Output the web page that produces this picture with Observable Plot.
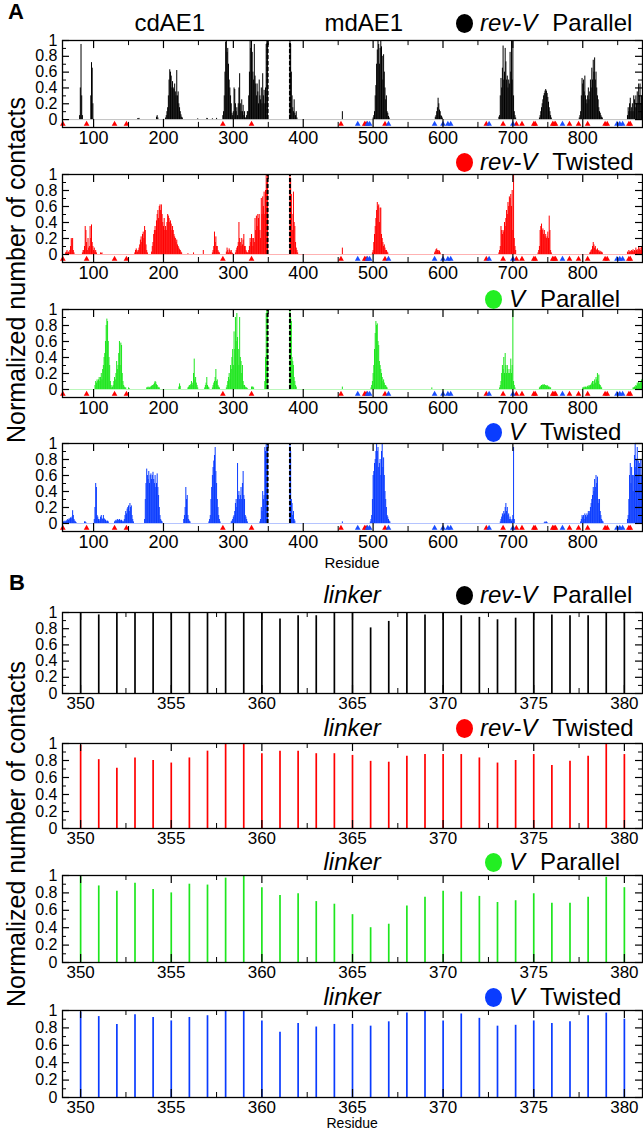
<!DOCTYPE html>
<html><head><meta charset="utf-8">
<script src="https://cdn.jsdelivr.net/npm/d3@7"></script>
<script src="https://cdn.jsdelivr.net/npm/@observablehq/plot@0.6"></script>
<style>
body{margin:0;background:#fff;font-family:"Liberation Sans",Arial,sans-serif;}
#root{position:relative;width:643px;height:1132px;overflow:hidden;background:#fff;}
.abs{position:absolute;white-space:nowrap;color:#000;}
.leg{font-size:24px;}
.dot{display:inline-block;width:17px;height:19px;border-radius:50%;vertical-align:-2px;margin-right:7px;}
.gap{display:inline-block;width:15px;}
.ytitle{font-size:25px;transform:rotate(-90deg);transform-origin:center center;text-align:center;width:400px;}
</style></head><body><div id="root"></div>
<script>
// ---------------- DATA ----------------
// Section A: per-residue normalized contacts, as [startResidue, [values...]] runs
const revVParallel = [
 [80,[0.05,0.4,0.95,0.3,0.05]],
 [96,[0.3,0.72,0.65,0.2]],
 [163,[0.01,0.01,0.015]],
 [190,[0.03,0.05,0.02]],
 [203,[0.02,0.05,0.1,0.15,0.3,0.5,0.63,0.6,0.55,0.4,0.48,0.4,0.38,0.45,0.35,0.3,0.62,0.3,0.35,0.2,0.15,0.1,0.06,0.03,0.02]],
 [249,[0.01]],[262,[0.015,0.01]],[270,[0.01]],[276,[0.015]],
 [285,[0.05,0.1,0.3,0.6,0.98,1,0.85,0.9,0.7,0.5,0.4,0.3,0.2,0.08,0.05,0.1,0.4,0.38,0.2,0.1,0.15,0.05,0.2,0.4,0.58,0.2,0.1,0.25,0.1,0.18,0.05,0.1,0.02,0.02,0.05,0.1]],
 [321,[0.1,0.3,0.6,1,0.9,1,0.85,0.6,0.5,0.95,0.55,0.45,0.3,0.45,0.35,0.2,0.5,0.3,0.25,0.4,0.2,0.58,0.3,0.37,0.2,0.4,0.95,1,1]],
 [381,[1,0.95,0.6,0.3,0.15,0.1,0.25,0.08,0.05,0.1,0.02]],
 [456,[0.1]],
 [500,[0.02,0.05,0.1,0.3,0.43,0.7,0.88,1,0.95,0.7,0.9,1,0.92,0.8,0.5,0.82,0.6,0.4,0.25,0.3,0.1,0.08,0.04,0.02]],
 [589,[0.03,0.05,0.1,0.15,0.27,0.2,0.12,0.1,0.05,0.04,0.02]],
 [680,[0.03,0.05,0.3,0.52,0.4,0.65,0.93,0.5,0.6,0.9,0.73,0.5,0.55,0.4,0.5,0.45,0.85,0.6,1,0.5,1,0.3,0.1,0.05,0.02]],
 [738,[0.02,0.05,0.1,0.15,0.2,0.25,0.3,0.33,0.36,0.38,0.36,0.33,0.28,0.22,0.15,0.1,0.05,0.02]],
 [795,[0.02,0.05,0.1,0.3,0.52,0.45,0.5,0.35,0.55,0.3,0.25,0.2,0.3,0.4,0.25,0.35,0.5,0.4,0.65,0.5,0.75,0.6,0.78,0.5,0.6,0.4,0.3,0.25,0.15,0.1,0.08,0.05,0.03,0.02]],
 [864,[0.05,0.15,0.1,0.2,0.27,0.1,0.15,0.2,0.1,0.3,0.25,0.15,0.3,0.2,0.35,0.2,0.45,0.3,0.45,0.2,0.3,0.1]]
];
const revVTwisted = [
 [60,[0.02,0.03,0.05,0.02,0.03,0.02,0.05,0.1,0.2,0.18,0.2,0.05,0.02]],
 [84,[0.02,0.05,0.05,0.1,0.35,0.3,0.15,0.05,0.2,0.08,0.1,0.35,0.2,0.37,0.15,0.1,0.05,0.08,0.03,0.05,0.02]],
 [110,[0.02,0.01,0.02]],
 [159,[0.02,0.05,0.07,0.05,0.03,0.05,0.08,0.12,0.18,0.22,0.15,0.25,0.28,0.2,0.35,0.3,0.12,0.05,0.02]],
 [183,[0.03,0.1,0.15,0.25,0.3,0.35,0.3,0.42,0.5,0.55,0.45,0.6,0.62,0.55,0.62,0.5,0.4,0.35,0.45,0.3,0.35,0.3,0.4,0.5,0.48,0.45,0.4,0.42,0.38,0.3,0.35,0.3,0.25,0.22,0.2,0.15,0.18,0.12,0.1,0.08,0.06,0.05,0.03,0.02]],
 [235,[0.01]],[243,[0.02]],[257,[0.05]],
 [270,[0.02,0.05,0.1,0.28,0.15,0.22,0.1,0.1,0.05,0.03,0.02]],
 [290,[0.03,0.08,0.05,0.02,0.07,0.05,0.03,0.05,0.02,0.01]],
 [303,[0.02,0.05,0.08,0.1,0.15,0.4,0.2,0.15,0.1,0.2,0.12,0.18,0.25,0.1,0.1,0.05,0.03,0.02]],
 [321,[0.02,0.05,0.1,0.2,0.15,0.25,0.2,0.1,0.2,0.15,0.45,0.3,0.48,0.35,0.5,0.45,0.5,0.3,0.2,0.7,0.5,0.72,0.6,0.78,0.5,0.8,1,0.9,1]],
 [381,[1,0.95,0.75,0.5,0.3,0.78,0.4,0.35,0.15,0.08,0.05,0.02]],
 [456,[0.08]],
 [499,[0.02,0.05,0.15,0.25,0.35,0.45,0.55,0.65,0.6,0.62,0.4,0.58,0.58,0.25,0.2,0.15,0.1,0.12,0.08,0.05,0.05,0.03,0.02]],
 [588,[0.02,0.04,0.06,0.07,0.05,0.03,0.05,0.04,0.02]],
 [680,[0.02,0.05,0.1,0.35,0.3,0.25,0.3,0.28,0.4,0.35,0.45,0.55,0.5,0.65,0.6,0.72,0.7,0.75,0.6,0.8,0.3,1,0.2,0.1,0.05]],
 [736,[0.02,0.05,0.1,0.3,0.35,0.38,0.3,0.32,0.25,0.3,0.22,0.25,0.2,0.22,0.28,0.2,0.48,0.3,0.05,0.02]],
 [810,[0.02,0.03,0.05,0.06,0.1,0.15,0.12,0.08,0.1,0.06,0.05,0.07,0.04,0.05,0.03,0.04,0.02,0.03,0.02]],
 [864,[0.03,0.02,0.05,0.03,0.04,0.03,0.05,0.04,0.06,0.03,0.05,0.04,0.08,0.05,0.06,0.04,0.1,0.06,0.08,0.05,0.1,0.06]]
];
const vParallel = [
 [102,[0.05,0.1,0.08,0.12,0.1,0.12,0.15,0.1,0.15,0.2,0.12,0.25,0.3,0.4,0.45,0.6,0.8,0.88,0.85,0.6,0.4,0.3,0.1,0.05,0.02,0.03,0.05,0.1,0.15,0.12,0.2,0.35,0.25,0.3,0.45,0.6,0.3,0.58,0.55,0.2,0.1,0.05,0.03,0.02,0.02]],
 [150,[0.02,0.01]],
 [176,[0.02,0.02,0.03,0.02,0.02,0.03,0.03,0.04,0.05,0.05,0.06,0.08,0.1,0.09,0.06,0.05,0.03,0.02,0.02]],
 [222,[0.03,0.07,0.04]],
 [235,[0.02,0.03,0.05,0.04,0.06,0.1,0.05,0.08,0.2,0.38,0.12,0.15,0.08,0.05,0.02]],
 [259,[0.02,0.05,0.08,0.15,0.05,0.03,0.02]],
 [270,[0.02,0.05,0.08,0.1,0.15,0.25,0.1,0.12,0.05,0.03,0.02]],
 [290,[0.02,0.05,0.1,0.15,0.2,0.12,0.3,0.25,0.4,0.5,0.3,0.72,0.5,0.9,0.6,0.95,0.65,0.5,0.3,0.9,0.4,0.35,0.2,0.3,0.1,0.05,0.05,0.03,0.02,0.02,0.01]],
 [326,[0.03,0.03,0.03,0.02]],
 [345,[0.1,0.4,0.95,1,1]],
 [381,[1,0.9,0.85,0.4,0.35,0.3,0.15,0.1,0.05,0.03]],
 [456,[0.03]],
 [497,[0.02,0.05,0.1,0.2,0.3,0.5,0.7,0.85,0.8,0.82,0.6,0.55,0.35,0.3,0.25,0.2,0.15,0.1,0.12,0.08,0.05,0.05,0.03,0.02]],
 [584,[0.02]],
 [681,[0.02,0.05,0.1,0.2,0.3,0.25,0.4,0.2,0.45,0.3,0.2,0.3,0.25,0.2,0.2,0.25,0.38,0.2,0.3,1,0.1,0.05,0.02]],
 [738,[0.02,0.03,0.04,0.05,0.05,0.06,0.05,0.06,0.05,0.05,0.04,0.05,0.04,0.03,0.03,0.02,0.02]],
 [800,[0.02,0.02,0.03,0.02,0.03,0.02,0.03,0.04,0.03,0.05,0.04,0.05,0.06,0.08,0.1,0.06,0.1,0.12,0.08,0.15,0.12,0.2,0.1,0.18,0.06,0.05,0.03,0.02]],
 [872,[0.02,0.02,0.03,0.03,0.05,0.04,0.08,0.06,0.1,0.07,0.08,0.1,0.12,0.08]]
];
const vTwisted = [
 [56,[0.01,0.02,0.02,0.03,0.02,0.03,0.04,0.05,0.04,0.06,0.05,0.07,0.06,0.08,0.16,0.1,0.05,0.03,0.02,0.01]],
 [87,[0.02,0.02,0.01]],
 [101,[0.05,0.2,0.5,0.45,0.1,0.08,0.05,0.03,0.05,0.08,0.1,0.06,0.05,0.1,0.06,0.05,0.04,0.03,0.02,0.03,0.02]],
 [130,[0.02,0.03,0.04,0.03,0.05,0.04,0.04,0.05,0.04,0.03,0.04,0.02,0.03,0.02,0.05,0.1,0.15,0.12,0.18,0.2,0.22,0.15,0.25,0.2,0.22,0.1,0.05,0.02]],
 [173,[0.05,0.3,0.5,0.68,0.6,0.55,0.65,0.5,0.6,0.62,0.55,0.6,0.64,0.55,0.5,0.6,0.45,0.5,0.62,0.45,0.35,0.2,0.1,0.05,0.03,0.02]],
 [229,[0.05,0.1,0.2,0.45,0.3,0.35,0.1,0.05,0.03,0.02]],
 [265,[0.02,0.05,0.1,0.3,0.45,0.6,0.7,0.78,0.85,0.95,0.65,0.5,0.3,0.2,0.1,0.05,0.02]],
 [297,[0.02,0.03,0.05,0.08,0.1,0.15,0.25,0.3,0.2,0.75,0.35,0.4,0.3,0.35,0.45,0.3,0.5,0.65,0.35,0.3,0.1,0.08,0.05,0.02]],
 [338,[0.02,0.05,0.2,0.15,0.4,0.3,0.35,0.95,0.9,1,0.95,1]],
 [381,[0.98,0.9,0.3,0.25,0.1,0.15,0.05,0.03]],
 [456,[0.02]],
 [496,[0.02,0.05,0.1,0.3,0.6,0.65,0.75,0.8,0.9,1,0.9,0.95,0.7,0.75,0.8,0.6,0.9,1,0.7,0.82,0.6,0.4,0.3,0.2,0.1,0.08,0.05,0.03,0.02]],
 [682,[0.02,0.05,0.08,0.12,0.1,0.15,0.12,0.2,0.25,0.15,0.2,0.1,0.12,0.05,0.08,0.05,0.03,0.05,0.1,0.95,0.05]],
 [745,[0.01,0.02,0.01,0.02,0.01]],
 [797,[0.02,0.05,0.1,0.08,0.1,0.05,0.12,0.1,0.08,0.12,0.1,0.15,0.12,0.15,0.2,0.25,0.3,0.35,0.45,0.4,0.55,0.45,0.6,0.5,0.58,0.3,0.25,0.3,0.15,0.1,0.05,0.03,0.02]],
 [864,[0.05,0.1,0.3,0.6,0.75,0.5,0.7,0.6,0.4,0.6,0.85,1,0.7,0.8,0.95,0.6,0.78,0.75,0.5,0.8,0.6,0.8]]
];
// residue markers shown under every section-A panel
const redTriangles  = [56,90,130,147,285,326,454,488,490,517,662,686,705,713,730,732,757,759,761,781,794,807,832,835,866,868];
const blueTriangles = [478,492,495,522,588,600,607,611,666,700,771,849,853,857];
const linkerEdges = [349, 381];

// Section B: linker residues and contacts
const linkerResidues = [350,351,352,353,354,355,356,357,358,359,360,361,362,363,364,365,366,367,368,369,370,371,372,373,374,375,376,377,378,379,380];
const linkRevVParallel = [1,0.97,1,1,1,1,1,1,1,1,1,0.92,0.96,0.96,1,1,0.81,0.89,1,0.97,1,0.96,0.94,0.91,0.93,1,0.97,0.96,0.96,1,1];
const linkRevVTwisted  = [0.98,0.81,0.71,0.83,0.8,0.77,0.83,0.91,1,1,0.88,0.91,0.91,0.88,0.88,0.86,0.79,0.78,0.85,0.87,0.87,0.87,0.83,0.77,0.8,0.87,0.74,0.79,0.85,1,0.87];
const linkVParallel    = [0.99,0.88,0.82,0.91,0.84,0.8,0.9,0.89,0.97,0.99,0.86,0.77,0.79,0.7,0.67,0.55,0.4,0.44,0.65,0.75,0.82,0.81,0.76,0.69,0.71,0.79,0.68,0.68,0.75,0.98,0.86];
const linkVTwisted     = [0.98,0.93,0.84,0.95,0.92,0.88,0.92,0.94,1,1,0.88,0.75,0.85,0.81,0.84,0.84,0.82,0.87,0.97,1,0.88,0.96,0.91,0.82,0.83,0.88,0.85,0.87,0.94,0.97,0.9];

// tick labels
const aTicksMajor = [100,200,300,400,500,600,700,800];
const aTicksMinor = [150,250,350,450,550,650,750,850];
const bTicksMajor = [350,355,360,365,370,375,380];
const bTicksMinor = [352.5,357.5,362.5,367.5,372.5,377.5];
const yTicksMajor = [0,0.2,0.4,0.6,0.8,1];
const yTicksMinor = [0.1,0.3,0.5,0.7,0.9];

const colors = {black:"#000000", red:"#ff0000", green:"#1ee61e", blue:"#0a3cff"};

// ---------------- DRAW ----------------
const root = document.getElementById("root");
const FONT = "'Liberation Sans', Arial, Helvetica, sans-serif";
const W = 643, ML = 62, MR = 1, FW = W - ML - MR;

function expand(segs){
  const out = [];
  for (const [s, vals] of segs) vals.forEach((v, i) => out.push({res: s + i, v}));
  return out;
}
function place(el, top){
  el.style.position = "absolute"; el.style.left = "0px"; el.style.top = top + "px";
  root.appendChild(el);
}
function tickSet(xMaj, xMin, fh){
  const k = "#000";
  return [
    Plot.ruleX(xMaj, {x: d => d, stroke: k, strokeWidth: 1.2, insetBottom: fh - 8}),
    Plot.ruleX(xMaj, {x: d => d, stroke: k, strokeWidth: 1.2, insetTop: fh - 8}),
    Plot.ruleX(xMin, {x: d => d, stroke: k, strokeWidth: 1, insetBottom: fh - 5}),
    Plot.ruleX(xMin, {x: d => d, stroke: k, strokeWidth: 1, insetTop: fh - 5}),
    Plot.ruleY(yTicksMajor, {y: d => d, stroke: k, strokeWidth: 1.2, insetRight: FW - 7}),
    Plot.ruleY(yTicksMajor, {y: d => d, stroke: k, strokeWidth: 1.2, insetLeft: FW - 7}),
    Plot.ruleY(yTicksMinor, {y: d => d, stroke: k, strokeWidth: 1, insetRight: FW - 4}),
    Plot.ruleY(yTicksMinor, {y: d => d, stroke: k, strokeWidth: 1, insetLeft: FW - 4})
  ];
}
function labels(xMaj, xSize, xPad){
  return [
    Plot.axisX(xMaj, {anchor: "bottom", tickSize: 0, tickPadding: xPad, label: null, fontSize: xSize, fontFamily: FONT, tickFormat: d => String(d)}),
    Plot.axisY(yTicksMajor, {anchor: "left", tickSize: 0, tickPadding: 5, label: null, fontSize: 16, fontFamily: FONT, tickFormat: d => String(d)})
  ];
}

function panelA(segs, color, frameTop, unit){
  const rows = expand(segs);
  const fh = unit * 1.1, mt = 4, mb = 30;
  const p = Plot.plot({
    width: W, height: Math.round(mt + fh + mb),
    marginTop: mt, marginBottom: mb, marginLeft: ML, marginRight: MR,
    x: {domain: [55.5, 885.5]}, y: {domain: [-0.1, 1]},
    style: {fontFamily: FONT, fontSize: "18px", color: "#000", background: "transparent", overflow: "visible"},
    marks: [
      Plot.ruleY([0], {stroke: color === "#000000" ? "#999" : color, strokeOpacity: color === "#000000" ? 0.6 : 0.3}),
      Plot.ruleX(rows, {x: "res", y1: 0, y2: "v", stroke: color, strokeWidth: 1}),
      Plot.ruleX(linkerEdges, {x: d => d, y1: 0, y2: 1, stroke: "#000", strokeWidth: 2, strokeDasharray: "4,2"}),
      Plot.dot(redTriangles, {x: d => d, frameAnchor: "bottom", dy: -3.5, symbol: "triangle", r: 2.1, fill: "#ff0000", stroke: "none"}),
      Plot.dot(blueTriangles, {x: d => d, frameAnchor: "bottom", dy: -3.5, symbol: "triangle", r: 2.1, fill: "#1a4dff", stroke: "none"}),
      ...tickSet(aTicksMajor, aTicksMinor, fh),
      Plot.frame({stroke: "#000", strokeWidth: 1.3}),
      ...labels(aTicksMajor, 18, 4)
    ]
  });
  place(p, frameTop - mt);
}

function panelB(vals, color, frameTop, fh){
  const rows = linkerResidues.map((r, i) => ({res: r, v: vals[i]}));
  const mt = 4, mb = 30;
  const p = Plot.plot({
    width: W, height: Math.round(mt + fh + mb),
    marginTop: mt, marginBottom: mb, marginLeft: ML, marginRight: MR,
    x: {domain: [349, 381]}, y: {domain: [0, 1]},
    style: {fontFamily: FONT, fontSize: "18px", color: "#000", background: "transparent", overflow: "visible"},
    marks: [
      Plot.ruleX(rows, {x: "res", y1: 0, y2: "v", stroke: color, strokeWidth: 1.7}),
      ...tickSet(bTicksMajor, bTicksMinor, fh),
      Plot.frame({stroke: "#000", strokeWidth: 1.3}),
      ...labels(bTicksMajor, 17, 3)
    ]
  });
  place(p, frameTop - mt);
}

function addText(html, cls, left, centerY, extraStyle, lh){
  lh = lh || 20;
  const d = document.createElement("div");
  d.className = "abs " + cls;
  d.innerHTML = html;
  d.style.lineHeight = lh + "px";
  d.style.left = left + "px";
  d.style.top = (centerY - lh / 2) + "px";
  if (extraStyle) Object.assign(d.style, extraStyle);
  root.appendChild(d);
  return d;
}
function legend(color, italic, word, left, cy){
  addText(`<span class="dot" style="background:${color}"></span><i>${italic}</i><span class="gap"></span>${word}`, "leg", left, cy);
}
function centered(html, cls, cx, cy, style, lh){
  const d = addText(html, cls, 0, cy, style, lh);
  d.style.left = (cx - d.offsetWidth / 2) + "px";
}

// Section A
const aTops = [40, 174, 309, 443];
panelA(revVParallel, colors.black, aTops[0], 79);
panelA(revVTwisted,  colors.red,   aTops[1], 80);
panelA(vParallel,    colors.green, aTops[2], 80);
panelA(vTwisted,     colors.blue,  aTops[3], 80);

addText("A", "", 8, 12, {fontSize: "22px", fontWeight: "bold"});
centered("cdAE1", "leg", 170, 23);
centered("mdAE1", "leg", 364, 23);
legend(colors.black, "rev-V", "Parallel", 456, 23);
legend(colors.red,   "rev-V", "Twisted", 456, 162);
legend("#22ee22",    "V", "Parallel", 485, 299);
legend("#0a3cff",    "V", "Twisted", 485, 432);
centered("Residue", "", 352, 563, {fontSize: "15px"}, 14);

// Section B
const bTops = [612, 743, 875, 1010];
const bH = [81, 85, 87, 87];
panelB(linkRevVParallel, colors.black, bTops[0], bH[0]);
panelB(linkRevVTwisted,  colors.red,   bTops[1], bH[1]);
panelB(linkVParallel,    colors.green, bTops[2], bH[2]);
panelB(linkVTwisted,     colors.blue,  bTops[3], bH[3]);

addText("B", "", 9, 583, {fontSize: "22px", fontWeight: "bold"});
const bLeg = [595, 728, 862, 997];
for (const cy of bLeg) centered("<i>linker</i>", "leg", 352, cy);
legend(colors.black, "rev-V", "Parallel", 456, bLeg[0]);
legend(colors.red,   "rev-V", "Twisted", 456, bLeg[1]);
legend("#22ee22",    "V", "Parallel", 485, bLeg[2]);
legend("#0a3cff",    "V", "Twisted", 485, bLeg[3]);
centered("Residue", "", 352, 1123, {fontSize: "14px"}, 10);

// rotated y titles
for (const cy of [270, 834]) {
  const d = addText("Normalized number of contacts", "ytitle", 0, cy, null, 28);
  d.style.left = (16 - 200) + "px";
}
</script></body></html>
